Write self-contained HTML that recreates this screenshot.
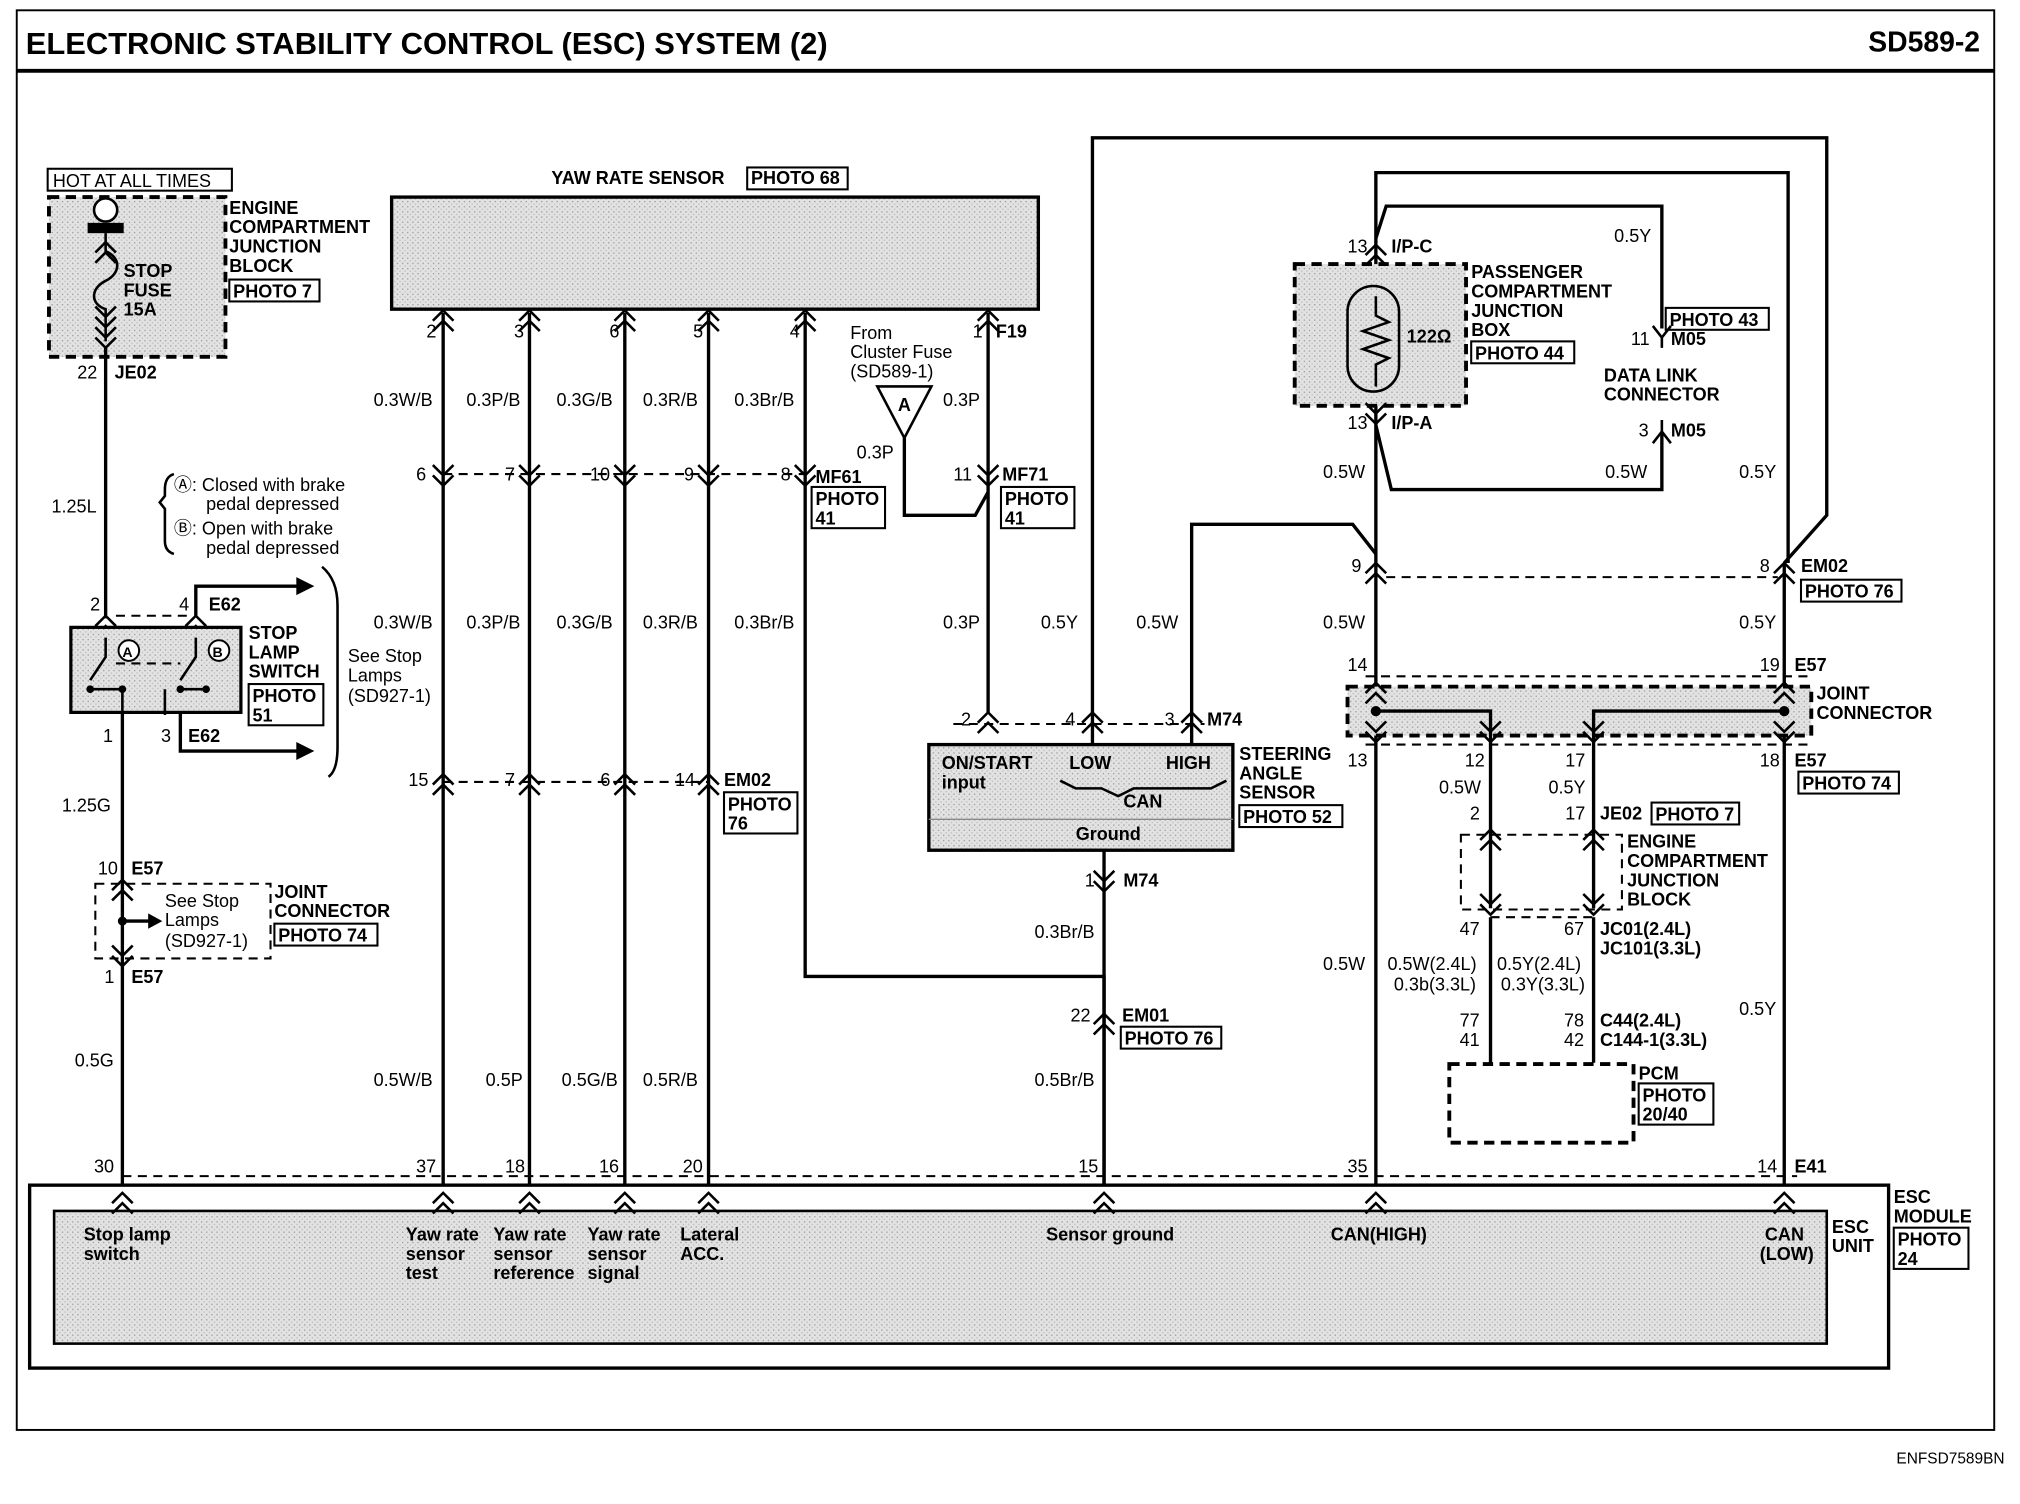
<!DOCTYPE html>
<html><head><meta charset="utf-8"><style>
html,body{margin:0;padding:0;background:#fff}
svg{display:block}
text{font-family:"Liberation Sans",Arial,sans-serif;font-size:14px;fill:#000}
.b{font-weight:bold}
.w{stroke:#000;stroke-width:2.6;fill:none}
.d{stroke:#000;stroke-width:1.6;fill:none;stroke-dasharray:7,5}
.dd{stroke:#000;stroke-width:3;fill:none;stroke-dasharray:8,5}
.c{stroke:#000;stroke-width:2;fill:none}
.box{fill:none;stroke:#000;stroke-width:1.6}
</style></head><body>
<svg width="2020" height="1504" viewBox="0 0 1568 1167.5" preserveAspectRatio="none" xmlns="http://www.w3.org/2000/svg">
<defs>
<path id="up" class="c" d="M-8,6 L0,-2 L8,6 M-8,14 L0,6 L8,14"/>
<path id="dn" class="c" d="M-8,-14 L0,-6 L8,-14 M-8,-6 L0,2 L8,-6"/>
<pattern id="g" width="4" height="4" patternUnits="userSpaceOnUse"><rect width="4" height="4" fill="#e2e2e2"/><rect width="1" height="1" fill="#999"/><rect x="2" y="2" width="1" height="1" fill="#bbb"/></pattern>
</defs>
<rect x="0" y="0" width="1568" height="1168" fill="#fff"/>
<rect x="13" y="8" width="1535" height="1102" fill="none" stroke="#000" stroke-width="1.5"/>
<line x1="13" y1="55" x2="1548" y2="55" stroke="#000" stroke-width="3"/>
<text x="20" y="42" class="b" style="font-size:24px">ELECTRONIC STABILITY CONTROL (ESC) SYSTEM (2)</text>
<text x="1537" y="40" class="b" text-anchor="end" style="font-size:22px">SD589-2</text>
<text x="1556" y="1136" text-anchor="end" style="font-size:12px">ENFSD7589BN</text>

<rect x="37" y="131" width="143" height="17" class="box"/>
<text x="41" y="145">HOT AT ALL TIMES</text>
<rect x="38" y="153" width="137" height="124" fill="url(#g)"/>
<rect x="38" y="153" width="137" height="124" class="dd"/>
<circle cx="82" cy="163" r="9" fill="#fff" stroke="#000" stroke-width="2"/>
<rect x="68" y="173" width="28" height="8" fill="#000"/>
<path class="c" d="M82,181 L82,195 C94,200 94,212 82,218 C70,224 70,236 82,240 L82,265"/>
<use href="#up" x="82" y="190"/>
<use href="#dn" x="82" y="252"/>
<use href="#dn" x="82" y="268"/>
<text x="96" y="215" class="b">STOP</text><text x="96" y="230" class="b">FUSE</text><text x="96" y="245" class="b">15A</text>
<text x="178" y="166" class="b">ENGINE</text><text x="178" y="181" class="b">COMPARTMENT</text><text x="178" y="196" class="b">JUNCTION</text><text x="178" y="211" class="b">BLOCK</text>
<rect x="178" y="217" width="70" height="17" class="box"/><text x="181" y="231" class="b">PHOTO 7</text>
<text x="60" y="294">22</text><text x="89" y="294" class="b">JE02</text>
<path class="w" d="M82,270 L82,480"/>
<text x="40" y="398">1.25L</text>

<path class="c" d="M135,368 Q128,370 128,380 L128,385 L124,390 L128,395 L128,420 Q128,428 135,430"/>
<text x="135" y="381">Ⓐ: Closed with brake</text><text x="160" y="396">pedal depressed</text>
<text x="135" y="415">Ⓑ: Open with brake</text><text x="160" y="430">pedal depressed</text>
<path class="c" d="M250,440 Q262,450 262,470 L262,580 Q262,598 255,603"/>
<text x="270" y="514">See Stop</text><text x="270" y="529">Lamps</text><text x="270" y="545">(SD927-1)</text>

<text x="70" y="474">2</text><text x="139" y="474">4</text><text x="162" y="474" class="b">E62</text>
<use href="#up" x="82" y="480"/><use href="#up" x="152" y="480"/>
<path class="d" d="M90,478 L145,478"/>
<path class="w" d="M152,478 L152,455 L240,455"/>
<path d="M230,448 L244,455 L230,462 Z" fill="#000"/>
<rect x="55" y="487" width="132" height="66" fill="url(#g)" stroke="#000" stroke-width="2.5"/>
<circle cx="100" cy="505" r="8" fill="#fff" stroke="#000" stroke-width="1.5"/><text x="95" y="510" class="b" style="font-size:11px">A</text>
<circle cx="170" cy="505" r="8" fill="#fff" stroke="#000" stroke-width="1.5"/><text x="165" y="510" class="b" style="font-size:11px">B</text>
<path class="c" d="M82,495 L82,510 L70,528 M95,535 L95,555 M70,535 L95,535 M152,495 L152,510 L140,528 M128,535 L128,555 M140,535 L160,535"/>
<path class="d" d="M90,515 L140,515"/>
<circle cx="70" cy="535" r="3" fill="#000"/><circle cx="95" cy="535" r="3" fill="#000"/><circle cx="140" cy="535" r="3" fill="#000"/><circle cx="160" cy="535" r="3" fill="#000"/>
<text x="193" y="496" class="b">STOP</text><text x="193" y="511" class="b">LAMP</text><text x="193" y="526" class="b">SWITCH</text>
<rect x="193" y="531" width="58" height="32" class="box"/><text x="196" y="545" class="b">PHOTO</text><text x="196" y="560" class="b">51</text>
<text x="80" y="576">1</text><text x="125" y="576">3</text><text x="146" y="576" class="b">E62</text>
<path class="w" d="M140,553 L140,583 L235,583"/>
<path d="M230,576 L244,583 L230,590 Z" fill="#000"/>
<path class="w" d="M95,553 L95,925"/>
<text x="48" y="630">1.25G</text>
<text x="76" y="679">10</text><text x="102" y="679" class="b">E57</text>
<use href="#up" x="95" y="685"/>
<rect x="74" y="686" width="136" height="58" class="d"/>
<circle cx="95" cy="715" r="3.5" fill="#000"/>
<path class="w" d="M95,715 L118,715"/><path d="M115,709 L126,715 L115,721 Z" fill="#000"/>
<text x="128" y="704">See Stop</text><text x="128" y="719">Lamps</text><text x="128" y="735">(SD927-1)</text>
<text x="213" y="697" class="b">JOINT</text><text x="213" y="712" class="b">CONNECTOR</text>
<rect x="213" y="717" width="80" height="17" class="box"/><text x="216" y="731" class="b">PHOTO 74</text>
<use href="#dn" x="95" y="748"/>
<text x="81" y="763">1</text><text x="102" y="763" class="b">E57</text>
<text x="58" y="828">0.5G</text>

<text x="428" y="143" class="b">YAW RATE SENSOR</text>
<rect x="580" y="130" width="78" height="17" class="box"/><text x="583" y="143" class="b">PHOTO 68</text>
<rect x="304" y="153" width="502" height="87" fill="url(#g)" stroke="#000" stroke-width="2.6"/>
<g>
<use href="#up" x="344" y="243"/><use href="#up" x="411" y="243"/><use href="#up" x="485" y="243"/><use href="#up" x="550" y="243"/><use href="#up" x="625" y="243"/><use href="#up" x="767" y="243"/>
</g>
<text x="331" y="262">2</text><text x="399" y="262">3</text><text x="473" y="262">6</text><text x="538" y="262">5</text><text x="613" y="262">4</text><text x="755" y="262">1</text><text x="773" y="262" class="b">F19</text>
<path class="w" d="M344,243 L344,925 M411,243 L411,925 M485,243 L485,925 M550,243 L550,925 M625,243 L625,758 L857,758 L857,925 M767,243 L767,553"/>
<text x="290" y="315">0.3W/B</text><text x="362" y="315">0.3P/B</text><text x="432" y="315">0.3G/B</text><text x="499" y="315">0.3R/B</text><text x="570" y="315">0.3Br/B</text>
<path class="d" d="M344,368 L625,368"/>
<use href="#dn" x="344" y="375"/><use href="#dn" x="411" y="375"/><use href="#dn" x="485" y="375"/><use href="#dn" x="550" y="375"/><use href="#dn" x="625" y="375"/><use href="#dn" x="767" y="375"/>
<text x="323" y="373">6</text><text x="392" y="373">7</text><text x="458" y="373">10</text><text x="531" y="373">9</text><text x="606" y="373">8</text><text x="633" y="375" class="b">MF61</text>
<rect x="630" y="378" width="57" height="32" class="box"/><text x="633" y="392" class="b">PHOTO</text><text x="633" y="407" class="b">41</text>
<text x="740" y="373">11</text><text x="778" y="373" class="b">MF71</text>
<rect x="777" y="378" width="57" height="32" class="box"/><text x="780" y="392" class="b">PHOTO</text><text x="780" y="407" class="b">41</text>
<text x="660" y="263">From</text><text x="660" y="278">Cluster Fuse</text><text x="660" y="293">(SD589-1)</text>
<path d="M681,300 L723,300 L702,340 Z" fill="#fff" stroke="#000" stroke-width="2"/>
<text x="697" y="319" class="b">A</text>
<path class="w" d="M702,340 L702,400 L757,400 L767,382"/>
<text x="732" y="315">0.3P</text><text x="665" y="356">0.3P</text>
<text x="290" y="488">0.3W/B</text><text x="362" y="488">0.3P/B</text><text x="432" y="488">0.3G/B</text><text x="499" y="488">0.3R/B</text><text x="570" y="488">0.3Br/B</text>
<text x="732" y="488">0.3P</text><text x="808" y="488">0.5Y</text><text x="882" y="488">0.5W</text>
<path class="d" d="M344,607 L550,607"/>
<use href="#up" x="344" y="603"/><use href="#up" x="411" y="603"/><use href="#up" x="485" y="603"/><use href="#up" x="550" y="603"/>
<text x="317" y="610">15</text><text x="392" y="610">7</text><text x="466" y="610">6</text><text x="524" y="610">14</text><text x="562" y="610" class="b">EM02</text>
<rect x="562" y="615" width="57" height="32" class="box"/><text x="565" y="629" class="b">PHOTO</text><text x="565" y="644" class="b">76</text>

<path class="w" d="M848,578 L848,107 L1418,107 L1418,400 L1385,437"/>
<path class="w" d="M925,578 L925,407 L1050,407 L1068,430"/>
<path class="d" d="M740,562 L935,562"/>
<use href="#up" x="767" y="555"/><use href="#up" x="848" y="555"/><use href="#up" x="925" y="555"/>
<text x="746" y="563">2</text><text x="827" y="563">4</text><text x="904" y="563">3</text><text x="937" y="563" class="b">M74</text>
<rect x="721" y="578" width="236" height="82" fill="url(#g)" stroke="#000" stroke-width="2.6"/>
<line x1="721" y1="636" x2="957" y2="636" stroke="#888" stroke-width="1"/>
<text x="731" y="597" class="b">ON/START</text><text x="731" y="612" class="b">input</text>
<text x="830" y="597" class="b">LOW</text><text x="905" y="597" class="b">HIGH</text>
<path class="c" d="M823,606 L835,612 L855,612 L868,618 L880,612 L940,612 L952,606"/>
<text x="872" y="627" class="b">CAN</text><text x="835" y="652" class="b">Ground</text>
<text x="962" y="590" class="b">STEERING</text><text x="962" y="605" class="b">ANGLE</text><text x="962" y="620" class="b">SENSOR</text>
<rect x="962" y="625" width="80" height="17" class="box"/><text x="965" y="639" class="b">PHOTO 52</text>
<path class="w" d="M857,660 L857,925"/>
<use href="#dn" x="857" y="690"/>
<text x="842" y="688">1</text><text x="872" y="688" class="b">M74</text>
<text x="803" y="728">0.3Br/B</text>
<use href="#up" x="857" y="789"/>
<text x="831" y="793">22</text><text x="871" y="793" class="b">EM01</text>
<rect x="870" y="797" width="78" height="17" class="box"/><text x="873" y="811" class="b">PHOTO 76</text>
<text x="803" y="843">0.5Br/B</text>

<path class="w" d="M1068,925 L1068,134 L1388,134 L1388,437"/>
<path class="w" d="M1068,185 L1076,160 L1290,160 L1290,255"/>
<path class="w" d="M1068,330 L1080,380 L1290,380 L1290,335"/>
<rect x="1005" y="205" width="133" height="110" fill="url(#g)"/>
<rect x="1005" y="205" width="133" height="110" class="dd"/>
<use href="#up" x="1068" y="192"/>
<use href="#dn" x="1068" y="327"/>
<rect x="1046" y="222" width="40" height="82" rx="20" fill="none" stroke="#000" stroke-width="2"/>
<path class="c" d="M1068,230 L1068,245 L1078,250 L1058,257 L1078,264 L1058,271 L1078,278 L1068,283 L1068,300"/>
<text x="1092" y="266" class="b">122Ω</text>
<text x="1046" y="196">13</text><text x="1080" y="196" class="b">I/P-C</text>
<text x="1046" y="333">13</text><text x="1080" y="333" class="b">I/P-A</text>
<text x="1142" y="216" class="b">PASSENGER</text><text x="1142" y="231" class="b">COMPARTMENT</text><text x="1142" y="246" class="b">JUNCTION</text><text x="1142" y="261" class="b">BOX</text>
<rect x="1142" y="265" width="80" height="17" class="box"/><text x="1145" y="279" class="b">PHOTO 44</text>
<text x="1253" y="188">0.5Y</text>
<rect x="1293" y="239" width="80" height="17" class="box"/><text x="1296" y="253" class="b">PHOTO 43</text>
<path class="c" d="M1283,253 L1290,262 L1297,253 M1290,262 L1290,270"/>
<text x="1266" y="268">11</text><text x="1297" y="268" class="b">M05</text>
<text x="1245" y="296" class="b">DATA LINK</text><text x="1245" y="311" class="b">CONNECTOR</text>
<path class="c" d="M1283,344 L1290,335 L1297,344 M1290,326 L1290,335"/>
<text x="1272" y="339">3</text><text x="1297" y="339" class="b">M05</text>
<text x="1027" y="371">0.5W</text><text x="1246" y="371">0.5W</text><text x="1350" y="371">0.5Y</text>
<path class="d" d="M1076,448 L1380,448"/>
<use href="#up" x="1068" y="439"/><use href="#up" x="1385" y="439"/>
<text x="1049" y="444">9</text><text x="1366" y="444">8</text><text x="1398" y="444" class="b">EM02</text>
<rect x="1398" y="450" width="78" height="17" class="box"/><text x="1401" y="464" class="b">PHOTO 76</text>
<text x="1027" y="488">0.5W</text><text x="1350" y="488">0.5Y</text>
<path class="w" d="M1385,437 L1385,925"/>
<text x="1046" y="521">14</text><text x="1366" y="521">19</text><text x="1393" y="521" class="b">E57</text>
<path class="d" d="M1060,525 L1405,525 M1060,578 L1405,578"/>
<rect x="1046" y="533" width="360" height="38" fill="url(#g)"/>
<rect x="1046" y="533" width="360" height="38" class="dd"/>
<use href="#up" x="1068" y="532"/><use href="#up" x="1385" y="532"/>
<use href="#dn" x="1068" y="574"/><use href="#dn" x="1385" y="574"/>
<circle cx="1068" cy="552" r="4" fill="#000"/><circle cx="1385" cy="552" r="4" fill="#000"/>
<path class="w" d="M1068,552 L1157,552 L1157,705 M1385,552 L1237,552 L1237,705"/>
<use href="#dn" x="1157" y="574"/><use href="#dn" x="1237" y="574"/>
<text x="1410" y="543" class="b">JOINT</text><text x="1410" y="558" class="b">CONNECTOR</text>
<text x="1046" y="595">13</text><text x="1137" y="595">12</text><text x="1215" y="595">17</text><text x="1366" y="595">18</text><text x="1393" y="595" class="b">E57</text>
<rect x="1396" y="599" width="78" height="17" class="box"/><text x="1399" y="613" class="b">PHOTO 74</text>
<text x="1117" y="616">0.5W</text><text x="1202" y="616">0.5Y</text>
<use href="#up" x="1157" y="646"/><use href="#up" x="1237" y="646"/>
<text x="1141" y="636">2</text><text x="1215" y="636">17</text><text x="1242" y="636" class="b">JE02</text>
<rect x="1282" y="623" width="68" height="17" class="box"/><text x="1285" y="637" class="b">PHOTO 7</text>
<rect x="1134" y="648" width="125" height="58" class="d"/>
<text x="1263" y="658" class="b">ENGINE</text><text x="1263" y="673" class="b">COMPARTMENT</text><text x="1263" y="688" class="b">JUNCTION</text><text x="1263" y="703" class="b">BLOCK</text>
<use href="#dn" x="1157" y="708"/><use href="#dn" x="1237" y="708"/>
<path class="d" d="M1157,712 L1237,712"/>
<text x="1133" y="726">47</text><text x="1214" y="726">67</text><text x="1242" y="726" class="b">JC01(2.4L)</text><text x="1242" y="741" class="b">JC101(3.3L)</text>
<path class="w" d="M1157,712 L1157,825 M1237,712 L1237,825"/>
<text x="1027" y="753">0.5W</text><text x="1077" y="753">0.5W(2.4L)</text><text x="1082" y="769">0.3b(3.3L)</text>
<text x="1162" y="753">0.5Y(2.4L)</text><text x="1165" y="769">0.3Y(3.3L)</text>
<text x="1350" y="788">0.5Y</text>
<text x="1133" y="797">77</text><text x="1133" y="812">41</text><text x="1214" y="797">78</text><text x="1214" y="812">42</text>
<text x="1242" y="797" class="b">C44(2.4L)</text><text x="1242" y="812" class="b">C144-1(3.3L)</text>
<rect x="1125" y="826" width="143" height="61" class="dd"/>
<text x="1272" y="838" class="b">PCM</text>
<rect x="1272" y="841" width="58" height="32" class="box"/><text x="1275" y="855" class="b">PHOTO</text><text x="1275" y="870" class="b">20/40</text>

<path class="d" d="M95,913 L1395,913"/>
<text x="73" y="910">30</text><text x="323" y="910">37</text><text x="392" y="910">18</text><text x="465" y="910">16</text><text x="530" y="910">20</text><text x="837" y="910">15</text><text x="1046" y="910">35</text><text x="1364" y="910">14</text><text x="1393" y="910" class="b">E41</text>
<rect x="23" y="920" width="1443" height="142" fill="#fff" stroke="#000" stroke-width="2.6"/>
<rect x="42" y="940" width="1376" height="103" fill="url(#g)" stroke="#000" stroke-width="2"/>
<use href="#up" x="95" y="928"/><use href="#up" x="344" y="928"/><use href="#up" x="411" y="928"/><use href="#up" x="485" y="928"/><use href="#up" x="550" y="928"/><use href="#up" x="857" y="928"/><use href="#up" x="1068" y="928"/><use href="#up" x="1385" y="928"/>
<text x="65" y="963" class="b">Stop lamp</text><text x="65" y="978" class="b">switch</text>
<text x="315" y="963" class="b">Yaw rate</text><text x="315" y="978" class="b">sensor</text><text x="315" y="993" class="b">test</text>
<text x="383" y="963" class="b">Yaw rate</text><text x="383" y="978" class="b">sensor</text><text x="383" y="993" class="b">reference</text>
<text x="456" y="963" class="b">Yaw rate</text><text x="456" y="978" class="b">sensor</text><text x="456" y="993" class="b">signal</text>
<text x="528" y="963" class="b">Lateral</text><text x="528" y="978" class="b">ACC.</text>
<text x="812" y="963" class="b">Sensor ground</text>
<text x="1033" y="963" class="b">CAN(HIGH)</text>
<text x="1370" y="963" class="b">CAN</text><text x="1366" y="978" class="b">(LOW)</text>
<text x="1422" y="957" class="b">ESC</text><text x="1422" y="972" class="b">UNIT</text>
<text x="1470" y="934" class="b">ESC</text><text x="1470" y="949" class="b">MODULE</text>
<rect x="1470" y="953" width="58" height="32" class="box"/><text x="1473" y="967" class="b">PHOTO</text><text x="1473" y="982" class="b">24</text>
<text x="290" y="843">0.5W/B</text><text x="377" y="843">0.5P</text><text x="436" y="843">0.5G/B</text><text x="499" y="843">0.5R/B</text>
</svg>
</body></html>
